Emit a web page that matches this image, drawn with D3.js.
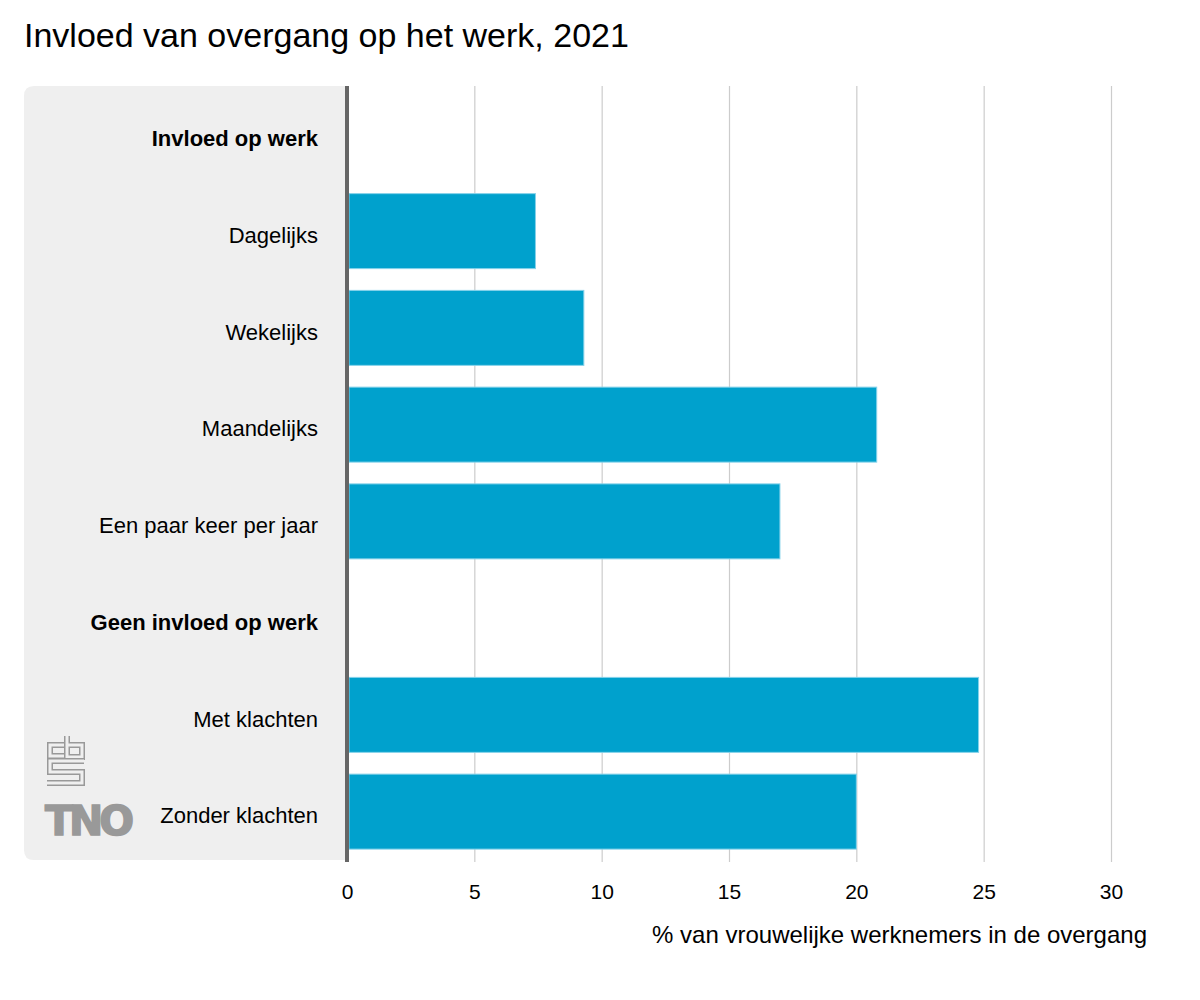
<!DOCTYPE html>
<html>
<head>
<meta charset="utf-8">
<script src="https://cdn.jsdelivr.net/npm/d3@7"></script>
<style>
  body { margin: 0; background: #fff; }
  svg { font-family: 'Liberation Sans', Arial, Helvetica, sans-serif; }
  .grid line { stroke: #cccccc; stroke-width: 1.2; }
  .grid .domain { display: none; }
  .bar { fill: #00a1cd; stroke: #86d2ea; stroke-width: 1; }
  .tick text { fill: #000; }
</style>
</head>
<body>
<svg width="1200" height="1000"></svg>
<script>
const categories = [
  'Invloed op werk',
  'Dagelijks',
  'Wekelijks',
  'Maandelijks',
  'Een paar keer per jaar',
  'Geen invloed op werk',
  'Met klachten',
  'Zonder klachten'
];
const values = [null, 7.4, 9.3, 20.8, 17.0, null, 24.8, 20.0];
const headers = ['Invloed op werk', 'Geen invloed op werk'];
const tickValues = [0, 5, 10, 15, 20, 25, 30];

const svg = d3.select('svg');

const plotLeft = 347;
const plotRight = 1111;
const plotTop = 86;
const plotBottom = 860;

const xScale = d3.scaleLinear()
  .domain([0, 30])
  .range([plotLeft, plotRight]);

const yScale = d3.scaleBand()
  .domain(categories)
  .range([plotTop, plotBottom])
  .paddingInner(0.225)
  .paddingOuter(0.1125);

// title
svg.append('text')
  .attr('x', 24)
  .attr('y', 47)
  .attr('font-size', 34)
  .text('Invloed van overgang op het werk, 2021');

// grey label panel, rounded on the left only
const r = 10;
svg.append('path')
  .attr('d', `M${plotLeft},${plotTop} H${24 + r} Q24,${plotTop} 24,${plotTop + r} V${plotBottom - r} Q24,${plotBottom} ${24 + r},${plotBottom} H${plotLeft} Z`)
  .attr('fill', '#efefef');

// vertical grid lines
svg.append('g')
  .attr('class', 'grid')
  .attr('transform', `translate(0, ${plotBottom + 2})`)
  .call(d3.axisBottom(xScale)
    .tickValues(tickValues.slice(1))
    .tickSize(-(plotBottom + 2 - plotTop))
    .tickFormat(''));

// bars
const rows = categories.map((c, i) => ({ label: c, value: values[i] }));

svg.selectAll('.bar')
  .data(rows.filter(d => d.value !== null))
  .enter()
  .append('rect')
  .attr('class', 'bar')
  .attr('x', xScale(0) + 2)
  .attr('y', d => yScale(d.label))
  .attr('width', d => xScale(d.value) - xScale(0) - 2)
  .attr('height', yScale.bandwidth());

// category labels
svg.selectAll('.cat')
  .data(rows)
  .enter()
  .append('text')
  .attr('class', 'cat')
  .attr('x', 318)
  .attr('y', d => yScale(d.label) + yScale.bandwidth() / 2 + 4)
  .attr('dy', '0.35em')
  .attr('text-anchor', 'end')
  .attr('font-size', 22)
  .attr('font-weight', d => headers.includes(d.label) ? 'bold' : 'normal')
  .text(d => d.label);

// zero line
svg.append('line')
  .attr('x1', xScale(0))
  .attr('x2', xScale(0))
  .attr('y1', plotTop)
  .attr('y2', plotBottom + 2)
  .attr('stroke', '#666')
  .attr('stroke-width', 4);

// tick labels
svg.append('g')
  .attr('transform', `translate(0, ${plotBottom})`)
  .call(d3.axisBottom(xScale)
    .tickValues(tickValues)
    .tickSize(0)
    .tickPadding(24))
  .call(g => g.select('.domain').remove())
  .call(g => g.selectAll('text')
    .attr('font-size', 21)
    .attr('font-family', "'Liberation Sans', Arial, sans-serif"));

// axis title
svg.append('text')
  .attr('x', 1147)
  .attr('y', 943)
  .attr('text-anchor', 'end')
  .attr('font-size', 24)
  .text('% van vrouwelijke werknemers in de overgang');

// logos (cbs + TNO)
const logo = svg.append('g')
  .attr('transform', 'translate(47, 736)')
  .attr('fill', 'none');

const logoPaths = [
  'M19 9 H3 V20 H19',
  'M20 0 V21 H35 V9 H20',
  'M37 25 H3 V36 H35 V47 H0'
];
logoPaths.forEach(p => {
  logo.append('path').attr('d', p).attr('stroke', '#999').attr('stroke-width', 6);
  logo.append('path').attr('d', p).attr('stroke', '#efefef').attr('stroke-width', 3);
});

svg.append('text')
  .attr('x', 45)
  .attr('y', 835)
  .attr('font-family', "'DejaVu Sans', sans-serif")
  .attr('font-size', 41)
  .attr('font-weight', 'bold')
  .attr('letter-spacing', -4)
  .attr('fill', '#999')
  .attr('stroke', '#999')
  .attr('stroke-width', 1.5)
  .text('TNO');
</script>
</body>
</html>
